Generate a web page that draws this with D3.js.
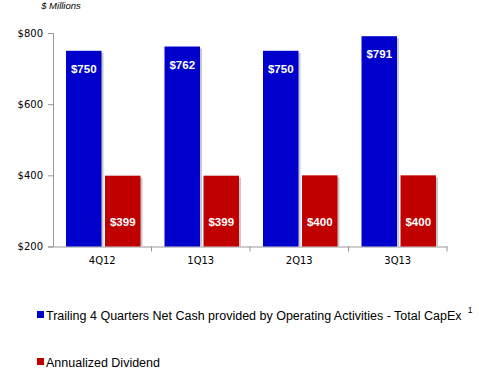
<!DOCTYPE html>
<html>
<head>
<meta charset="utf-8">
<script src="https://cdn.jsdelivr.net/npm/d3@7"></script>
<style>
  body { margin: 0; background: #fff; }
  svg { display: block; }
</style>
</head>
<body>
<svg id="chart" width="479" height="383"></svg>
<script>
// quarters and values ($ millions)
var quarters = ["4Q12", "1Q13", "2Q13", "3Q13"];
var cashFlow = [750, 762, 750, 791];
var dividend = [399, 399, 400, 400];
var yTicks = [200, 400, 600, 800];
var seriesNames = ["Trailing 4 Quarters Net Cash provided by Operating Activities - Total CapEx", "Annualized Dividend"];
var seriesColors = ["#0000cc", "#c00000"];

var svg = d3.select("#chart");
var plotLeft = 53, plotRight = 447, plotTop = 33, plotBottom = 246.5;

var x = d3.scaleBand().domain(quarters).range([plotLeft, plotRight]);
var y = d3.scaleLinear().domain([200, 800]).range([plotBottom, plotTop]);

var barW = 35.5, gap = 3.5, offset = 13;

// axes
var yAxis = svg.append("g")
    .attr("transform", "translate(" + plotLeft + ",0)")
    .call(d3.axisLeft(y).tickValues(yTicks).tickSize(5).tickFormat(function(d) { return "$" + d; }));
yAxis.selectAll("text")
    .attr("font-family", "DejaVu Sans").attr("font-size", 10).attr("fill", "#000").attr("dx", -2);

var xAxis = svg.append("g")
    .attr("transform", "translate(0," + plotBottom + ")")
    .call(d3.axisBottom(x).tickSize(0).tickPadding(10));
xAxis.selectAll("text")
    .attr("font-family", "DejaVu Sans").attr("font-size", 10).attr("fill", "#000");
svg.selectAll(".domain").attr("stroke", "#999");
svg.selectAll(".tick line").attr("stroke", "#999");

// category separators
svg.append("g").selectAll("line")
    .data(quarters)
    .enter().append("line")
    .attr("x1", function(d) { return x(d) + x.bandwidth(); })
    .attr("x2", function(d) { return x(d) + x.bandwidth(); })
    .attr("y1", plotBottom).attr("y2", plotBottom + 5)
    .attr("stroke", "#999");

function drawSeries(vals, idx, labelPos) {
    var g = svg.append("g");
    var bx = function(i) { return x(quarters[i]) + offset + idx * (barW + gap); };
    // shadow
    g.selectAll("rect.shadow").data(vals).enter().append("rect")
        .attr("class", "shadow")
        .attr("x", function(d, i) { return bx(i) + 2; })
        .attr("y", function(d) { return y(d) + 2; })
        .attr("width", barW)
        .attr("height", function(d) { return plotBottom - y(d) - 2; })
        .attr("fill", "#c8c8c8");
    g.selectAll("rect.bar").data(vals).enter().append("rect")
        .attr("class", "bar")
        .attr("x", function(d, i) { return bx(i); })
        .attr("y", function(d) { return y(d); })
        .attr("width", barW)
        .attr("height", function(d) { return plotBottom - y(d); })
        .attr("fill", seriesColors[idx]);
    g.selectAll("text").data(vals).enter().append("text")
        .attr("x", function(d, i) { return bx(i) + barW / 2; })
        .attr("y", labelPos)
        .attr("text-anchor", "middle")
        .attr("font-family", "Liberation Sans").attr("font-weight", "bold")
        .attr("font-size", 11.5).attr("fill", "#fff")
        .text(function(d) { return "$" + d; });
}
drawSeries(cashFlow, 0, function(d) { return y(d) + 22; });
drawSeries(dividend, 1, function(d) { return 226; });

// unit title
svg.append("text")
    .attr("x", 61).attr("y", 9)
    .attr("text-anchor", "middle")
    .attr("font-family", "Liberation Sans").attr("font-style", "italic")
    .attr("font-size", 9.5).attr("fill", "#000")
    .text("$ Millions");

// legend
var legend = svg.append("g").selectAll("g")
    .data(seriesNames).enter().append("g")
    .attr("transform", function(d, i) { return "translate(37," + (315 + i * 47) + ")"; });
legend.append("rect")
    .attr("x", 0).attr("y", -4).attr("width", 7).attr("height", 7)
    .attr("fill", function(d, i) { return seriesColors[i]; });
legend.append("text")
    .attr("x", 9).attr("y", 4.5)
    .attr("font-family", "Liberation Sans").attr("font-size", 12.5).attr("fill", "#000")
    .text(function(d) { return d; });
svg.append("text")
    .attr("x", 470).attr("y", 313)
    .attr("text-anchor", "middle")
    .attr("font-family", "Liberation Sans").attr("font-size", 8.5).attr("fill", "#000")
    .text("1");
</script>
</body>
</html>
